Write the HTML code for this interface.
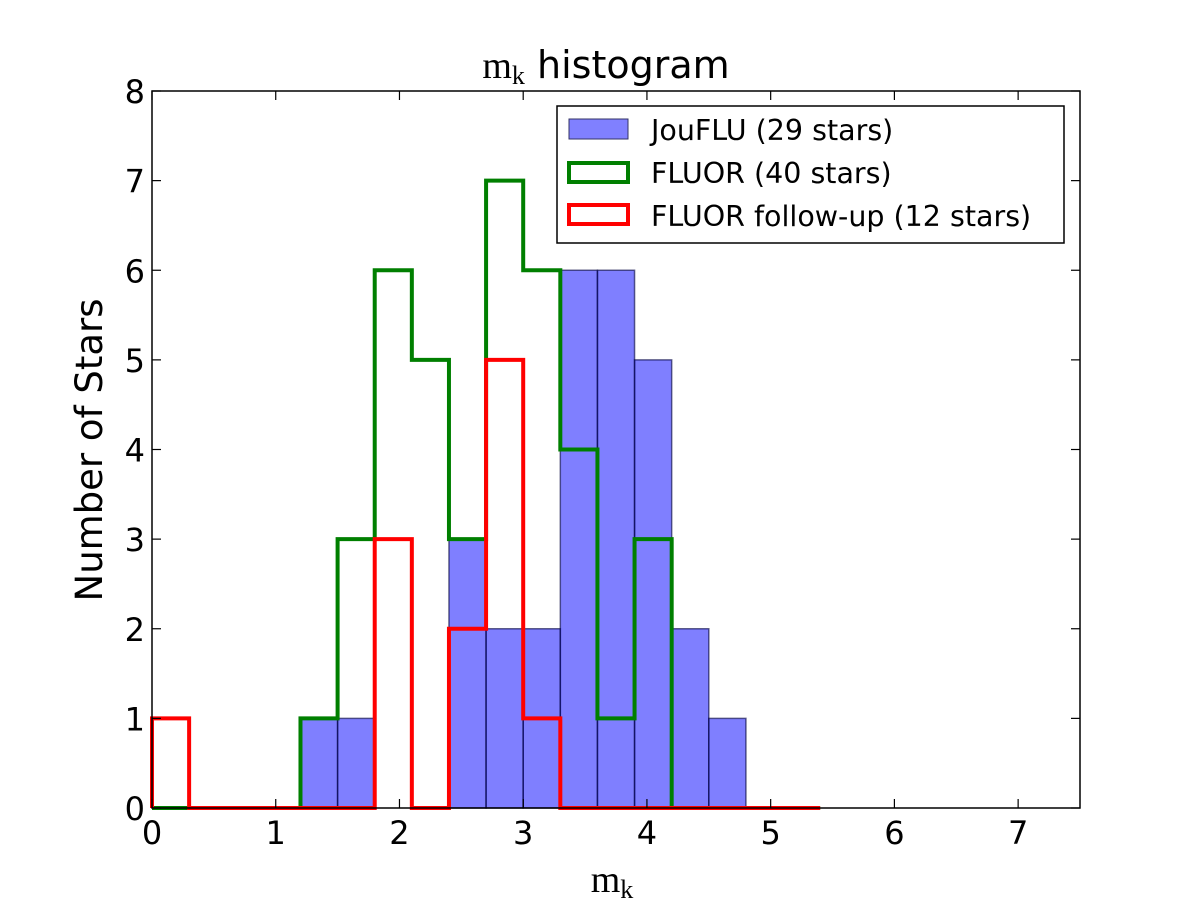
<!DOCTYPE html>
<html><head><meta charset="utf-8"><style>
body{margin:0;background:#fff;}
svg{display:block;font-family:"DejaVu Sans","Liberation Sans",sans-serif;}
</style></head><body>
<svg id="chart" width="1200" height="902" viewBox="0 0 1200 902">
<rect width="1200" height="902" fill="#fff"/>
<g id="bars"></g>
<g id="steps"></g>
<rect x="152" y="91" width="928" height="717" fill="none" stroke="#000" stroke-width="1.5"/>
<g id="ticks"></g>
<text x="606" y="78" text-anchor="middle" font-size="38"><tspan font-family="Liberation Serif, serif" font-size="38">m</tspan><tspan font-family="Liberation Serif, serif" font-size="26" dy="6">k</tspan><tspan dy="-6"> histogram</tspan></text>
<text x="612" y="892" text-anchor="middle" font-family="Liberation Serif, serif" font-size="38">m<tspan font-size="26" dy="6">k</tspan></text>
<text transform="translate(102,450) rotate(-90)" text-anchor="middle" font-size="37">Number of Stars</text>
<g>
<rect x="557" y="106" width="507" height="137" fill="#fff" stroke="#000" stroke-width="1.5"/>
<rect x="569" y="119" width="59" height="20" fill="#8080ff" stroke="#333366" stroke-width="1"/>
<text x="651" y="140" font-size="28.5">JouFLU (29 stars)</text>
<rect x="569" y="163" width="59" height="19" fill="none" stroke="#007f00" stroke-width="4"/>
<text x="651" y="183" font-size="28.5">FLUOR (40 stars)</text>
<rect x="569" y="205" width="59" height="19" fill="none" stroke="#ff0000" stroke-width="4"/>
<text x="651" y="226" font-size="28.5">FLUOR follow-up (12 stars)</text>
</g>
</svg>
<script>
const binEdges = [0,0.3,0.6,0.9,1.2,1.5,1.8,2.1,2.4,2.7,3.0,3.3,3.6,3.9,4.2,4.5,4.8,5.1,5.4];
const joufluCounts = [0,0,0,0,1,1,0,0,3,2,2,6,6,5,2,1,0,0];
const fluorCounts = [0,0,0,0,1,3,6,5,3,7,6,4,1,3,0,0,0,0];
const followupCounts = [1,0,0,0,0,0,3,0,2,5,1,0,0,0,0,0,0,0];
const xTicks = [0,1,2,3,4,5,6,7];
const yTicks = [0,1,2,3,4,5,6,7,8];
const NS="http://www.w3.org/2000/svg";
const X0=152,X1=1080,Y0=808,Y1=91;
const sx=v=>X0+v*(X1-X0)/7.5;
const sy=v=>Y0-v*(Y0-Y1)/8;
const bars=document.getElementById('bars');
joufluCounts.forEach((c,i)=>{
 if(c<=0)return;
 const r=document.createElementNS(NS,'rect');
 
 
 r.setAttribute('x',sx(binEdges[i]));r.setAttribute('width',sx(binEdges[i+1])-sx(binEdges[i]));
 r.setAttribute('y',sy(c));r.setAttribute('height',sy(0)-sy(c));
 r.setAttribute('fill','rgba(0,0,255,0.5)');r.setAttribute('stroke','rgba(0,0,60,0.6)');r.setAttribute('stroke-width','1.5');
 bars.appendChild(r);
});
const steps=document.getElementById('steps');
function step(counts,color,name){
 let d='M'+sx(binEdges[0])+','+sy(0);
 counts.forEach((c,i)=>{d+=' L'+sx(binEdges[i])+','+sy(c)+' L'+sx(binEdges[i+1])+','+sy(c);});
 d+=' L'+sx(binEdges[binEdges.length-1])+','+sy(0);
 const p=document.createElementNS(NS,'path');
 
 
 p.setAttribute('d',d);p.setAttribute('fill','none');p.setAttribute('stroke',color);p.setAttribute('stroke-width','4');p.setAttribute('stroke-linejoin','miter');
 steps.appendChild(p);
}
step(fluorCounts,'#007f00','fluor-step');
step(followupCounts,'#ff0000','followup-step');
const ticks=document.getElementById('ticks');
function line(x1,y1,x2,y2){const l=document.createElementNS(NS,'line');
 
 
 l.setAttribute('x1',x1);l.setAttribute('y1',y1);l.setAttribute('x2',x2);l.setAttribute('y2',y2);l.setAttribute('stroke','#000');l.setAttribute('stroke-width','1.2');ticks.appendChild(l);}
function label(x,y,t,anchor){const e=document.createElementNS(NS,'text');
 
 
 e.setAttribute('x',x);e.setAttribute('y',y);e.setAttribute('text-anchor',anchor);e.setAttribute('font-size','32');e.textContent=t;ticks.appendChild(e);}
xTicks.forEach(v=>{const x=sx(v);line(x,Y0,x,Y0-9);line(x,Y1,x,Y1+9);label(x,Y0+36,String(v),'middle');});
yTicks.forEach(v=>{const y=sy(v);line(X0,y,X0+9,y);line(X1,y,X1-9,y);label(X0-7,y+12,String(v),'end');});
</script>
</body></html>
